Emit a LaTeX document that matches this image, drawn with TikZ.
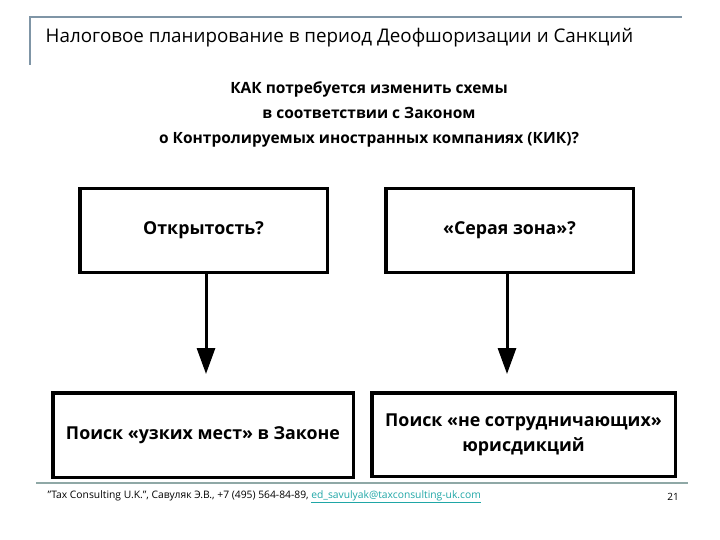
\documentclass[tikz,border=0pt]{standalone}
\usepackage{fontspec}
\setmainfont{Open Sans}
\usetikzlibrary{positioning, arrows.meta}
\definecolor{hdrgray}{HTML}{7F95A6}
\definecolor{footgray}{HTML}{8FA8A6}
\definecolor{linkteal}{HTML}{1FA6A6}
\tikzset{every picture/.style={line width=0.75pt}}

\begin{document}
\begin{tikzpicture}[x=1pt, y=-1pt, >=Triangle,
    box/.style={draw, line width=3.5pt, minimum height=83.5pt, font=\fontsize{17.8}{25}\selectfont\bfseries, align=center},
    flow/.style={-{Triangle[width=18pt, length=26pt]}, line width=3pt}]
        \path[use as bounding box] (0,0) rectangle (720,540);
        % header frame and title
        \draw[hdrgray, line width=2pt] (30,65) -- (30,17) -- (682,17);
        \node[anchor=west, font=\fontsize{18.8}{22}\selectfont] (title) at (42,38) {Налоговое планирование в период Деофшоризации и Санкций};
        \node[align=center, font=\fontsize{15.5}{25}\selectfont\bfseries] (question) at (369,114)
            {КАК потребуется изменить схемы\\в соответствии с Законом\\о Контролируемых иностранных компаниях (КИК)?};
        % boxes
        \node[box, minimum width=247.5pt] (open) at (203.5,230.5) {Открытость?};
        \node[box, minimum width=247.5pt] (gray) at (509.5,230.5) {«Серая зона»?};
        \node[box, minimum width=300.5pt, minimum height=84.5pt] (gaps) at (203,435) {Поиск «узких мест» в Законе};
        \node[box, minimum width=303.5pt, minimum height=83.5pt] (juris) at (523.5,434.5) {Поиск «не сотрудничающих»\\юрисдикций};
        \draw[flow, shorten >=17pt] ([xshift=2.5pt]open.south) -- ([xshift=2.5pt]open.south |- gaps.north);
        \draw[flow, shorten >=17pt] ([xshift=-2.5pt]gray.south) -- ([xshift=-2.5pt]gray.south |- juris.north);
        % footer
        \coordinate (footL) at (36,483);
        \coordinate (footR) at (688,483);
        \draw[footgray, line width=2pt] (footL) -- (footR);
        \node[anchor=west, font=\fontsize{10.3}{12}\selectfont] (credits) at (44,497)
            {"Tax Consulting U.K.", Савуляк Э.В., +7 (495) 564-84-89, \textcolor{linkteal}{\underline{ed\_savulyak@taxconsulting-uk.com}}};
        \node[font=\fontsize{10}{12}\selectfont] (page) at (673,497) {21};
    \end{tikzpicture}
\end{document}
